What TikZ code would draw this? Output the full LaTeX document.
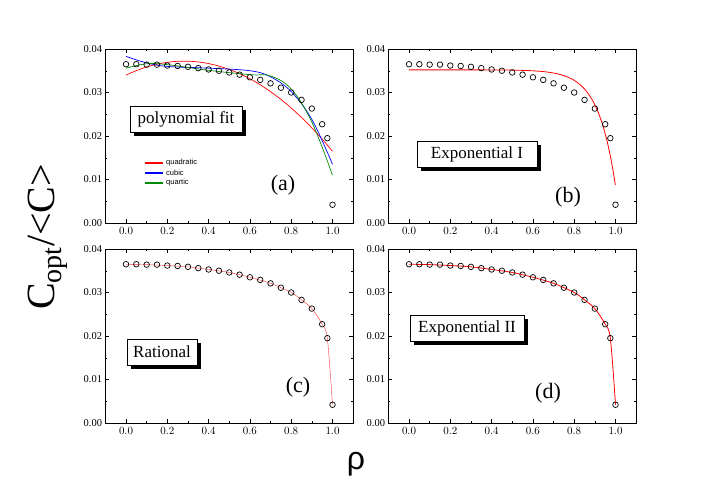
\documentclass[tikz,border=0pt]{standalone}
\usepackage{fontspec}
\setmainfont{Liberation Serif}
\newfontfamily\lgfont{Liberation Sans}
\usetikzlibrary{shadows}
\begin{document}
\begin{tikzpicture}[x=1pt,y=1pt,
  tick/.style={font=\fontsize{10.5}{11}\selectfont,inner sep=2pt},
  lbox/.style={draw,fill=white,font=\fontsize{17}{18}\selectfont,inner xsep=6pt,minimum height=26pt,
    drop shadow={shadow xshift=4pt,shadow yshift=-4pt,fill=black,opacity=1}},
  plab/.style={font=\fontsize{22}{24}\selectfont},
  lgt/.style={font=\lgfont\fontsize{7.5}{8}\selectfont,inner sep=1pt,anchor=west},
  pt/.style={draw=black,line width=0.7pt,fill=none},
  fitred/.style={red,line width=0.8pt}]
\useasboundingbox (0,0) rectangle (706,499);
\def\dat{0/0.0365,0.05/0.0365,0.1/0.0364,0.15/0.0364,0.2/0.0362,0.25/0.0361,0.3/0.0359,0.35/0.0356,0.4/0.0353,0.45/0.0350,0.5/0.0346,0.55/0.0341,0.6/0.0335,0.65/0.0329,0.7/0.0321,0.75/0.0311,0.8/0.0300,0.85/0.0283,0.9/0.0263,0.95/0.0227,0.975/0.0195,1.0/0.0042}
\newcommand\panelaxes{%
  \draw[line width=0.6pt] (-0.1,0) rectangle (1.1,0.04);
  \foreach \t in {0,0.2,0.4,0.6,0.8,1.0}{
    \draw (\t,0) -- ++(0,4pt); \draw (\t,0.04) -- ++(0,-4pt);
    \node[tick,anchor=north] at (\t,-0.0006) {\pgfmathprintnumber[fixed,precision=1,fixed zerofill]{\t}};}
  \foreach \t in {0.1,0.3,0.5,0.7,0.9}{
    \draw (\t,0) -- ++(0,2pt); \draw (\t,0.04) -- ++(0,-2pt);}
  \foreach \t/\l in {0/0.00,0.01/0.01,0.02/0.02,0.03/0.03,0.04/0.04}{
    \draw (-0.1,\t) -- ++(4pt,0); \draw (1.1,\t) -- ++(-4pt,0);
    \node[tick,anchor=east] at (-0.105,\t) {\l};}
  \foreach \t in {0.005,0.015,0.025,0.035}{
    \draw (-0.1,\t) -- ++(2pt,0); \draw (1.1,\t) -- ++(-2pt,0);}
}
\newcommand\points{\foreach \a/\b in \dat {\draw[pt] (\a,\b) circle[radius=2.8pt];}}
% panel a
\begin{scope}[shift={(126,276)},x=206.5pt,y=4350pt]
  \panelaxes
  \draw[red,line width=0.7pt,domain=0:1,samples=60] plot (\x,{0.034+0.0227*\x-0.0402*\x*\x});
  \draw[blue,line width=0.7pt] plot[smooth,tension=0.6] coordinates {(0,0.0383) (0.1,0.0368) (0.2,0.0360) (0.4,0.0356) (0.6,0.0350) (0.7,0.0336) (0.8,0.0302) (0.9,0.0238) (1,0.0135)};
  \draw[green!55!black,line width=0.7pt] plot[smooth,tension=0.6] coordinates {(0,0.0356) (0.1,0.0366) (0.2,0.0364) (0.4,0.0351) (0.6,0.0341) (0.7,0.0338) (0.8,0.0308) (0.9,0.0232) (1,0.011)};
  \points
\end{scope}
\node[lbox,minimum width=112pt] (pf) at (186,380) {polynomial fit};
\coordinate (qa) at (145,336); \coordinate (qb) at (163,336);
\coordinate (ca) at (145,326); \coordinate (cb) at (163,326);
\coordinate (ua) at (145,316); \coordinate (ub) at (163,316);
\draw[draw=red,line width=1.1pt] (qa) -- (qb);
\draw[draw=blue,line width=1.1pt] (ca) -- (cb);
\draw[draw=green!55!black,line width=1.1pt] (ua) -- (ub);
\node[lgt] (lq) at (165,336) {quadratic};
\node[lgt] (lc) at (165,326) {cubic};
\node[lgt] (lqu) at (165,316) {quartic};
\node[plab] (la) at (283,314) {(a)};
% panel b
\begin{scope}[shift={(409,276)},x=206.5pt,y=4350pt]
  \panelaxes
  \draw[fitred,domain=0:1,samples=80] plot (\x,{0.0352-0.0267*exp(12*(\x-1))});
  \points
\end{scope}
\node[lbox,minimum width=120pt] (e1) at (477,345) {Exponential I};
\node[plab] (lb) at (568,302) {(b)};
% panel c
\begin{scope}[shift={(126,76)},x=206.5pt,y=4350pt]
  \panelaxes
  \draw[red!80,line width=0.4pt] plot[smooth,tension=0.5] coordinates {(0,0.0365) (0.1,0.0364) (0.2,0.0362) (0.3,0.0359) (0.4,0.0353) (0.5,0.0346) (0.6,0.0335) (0.7,0.0321) (0.8,0.0300) (0.85,0.0283) (0.9,0.0263) (0.95,0.0227) (0.975,0.0195) (1.0,0.0042)};
  \points
\end{scope}
\node[lbox] (ra) at (162,147) {Rational};
\node[plab] (lc2) at (298,112) {(c)};
% panel d
\begin{scope}[shift={(409,76)},x=206.5pt,y=4350pt]
  \panelaxes
  \draw[fitred] plot[smooth,tension=0.5] coordinates {(0,0.0365) (0.1,0.0364) (0.2,0.0362) (0.3,0.0359) (0.4,0.0353) (0.5,0.0346) (0.6,0.0335) (0.7,0.0321) (0.8,0.0300) (0.85,0.0283) (0.9,0.0263) (0.95,0.0227) (0.975,0.0195) (1.0,0.0042)};
  \points
\end{scope}
\node[lbox,minimum width=114pt] (e2) at (467,171) {Exponential II};
\node[plab] (ld) at (548,106) {(d)};
% axis titles
\node[rotate=90,font=\fontsize{40}{42}\selectfont] (yl) at (48,262) {C\textsubscript{opt}/<C>};
\node[font=\lgfont\fontsize{32}{34}\selectfont] (xl) at (356,35) {ρ};
\end{tikzpicture}
\end{document}
